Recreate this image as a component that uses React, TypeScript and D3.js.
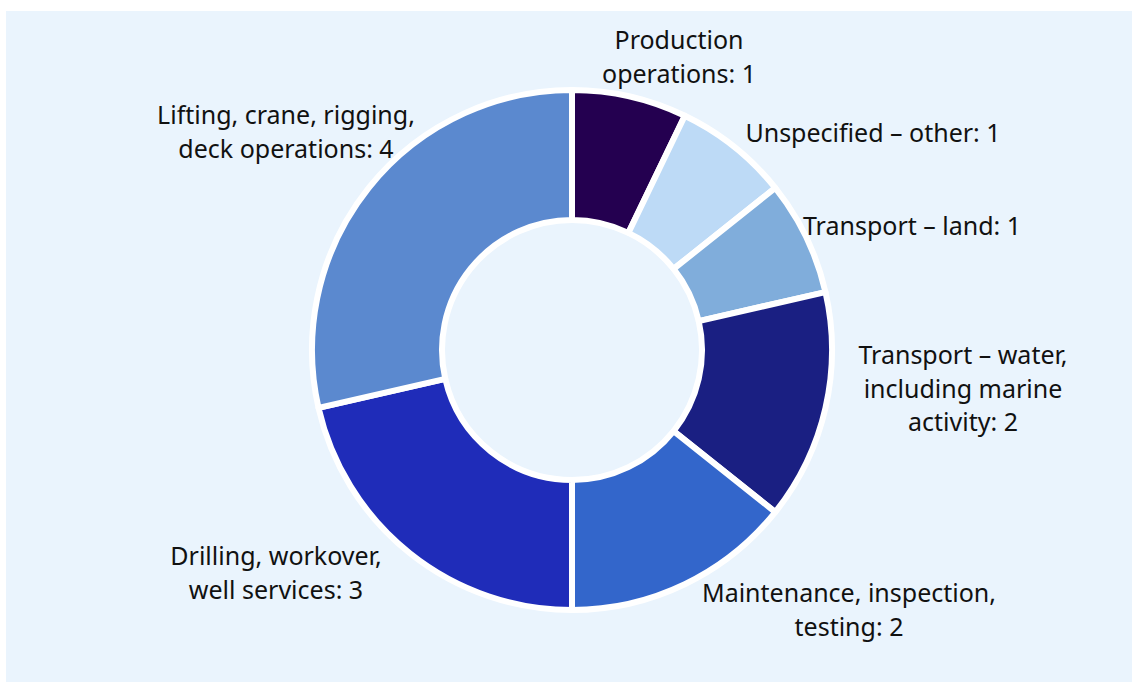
import React, { useEffect, useRef } from "react";
import * as d3 from "d3";

const categories = [
  "Production operations",
  "Unspecified – other",
  "Transport – land",
  "Transport – water, including marine activity",
  "Maintenance, inspection, testing",
  "Drilling, workover, well services",
  "Lifting, crane, rigging, deck operations",
];
const values = [1, 1, 1, 2, 2, 3, 4];
const colors = ["#240050", "#bddaf6", "#80addb", "#1a1f82", "#3366cb", "#1f2cb9", "#5b89cf"];

// label text split in lines, last line gets ": value"
const labelLines = [
  ["Production", "operations"],
  ["Unspecified – other"],
  ["Transport – land"],
  ["Transport – water,", "including marine", "activity"],
  ["Maintenance, inspection,", "testing"],
  ["Drilling, workover,", "well services"],
  ["Lifting, crane, rigging,", "deck operations"],
];

const D3Donut = () => {
  const ref = useRef<HTMLDivElement>(null);

  useEffect(() => {
    drawChart();
  }, []);

  const drawChart = () => {
    const w = 1132;
    const h = 682;
    const cx = 572;
    const cy = 350;
    const outerRadius = 260;
    const innerRadius = 130;
    const lineH = 33.5;
    // where each label block sits (centre x, first baseline)
    const labelPos = [
      [679, 49],
      [873, 142],
      [912, 235],
      [963, 364],
      [849, 602],
      [276, 565],
      [286, 124],
    ];

    d3.select(ref.current).selectAll("*").remove();
    const svg = d3
      .select(ref.current)
      .append("svg")
      .attr("width", w)
      .attr("height", h)
      .style("display", "block");

    svg
      .append("rect")
      .attr("x", 6)
      .attr("y", 11)
      .attr("width", w - 6)
      .attr("height", h - 11)
      .attr("fill", "#eaf4fd");

    const pie = d3
      .pie<number>()
      .sort(null)
      .value((d) => d)(values);

    const arc = d3
      .arc<d3.PieArcDatum<number>>()
      .innerRadius(innerRadius)
      .outerRadius(outerRadius);

    const g = svg.append("g").attr("transform", "translate(" + cx + "," + cy + ")");

    g.selectAll("path")
      .data(pie)
      .enter()
      .append("path")
      .attr("d", (d) => arc(d) as string)
      .attr("fill", (d, i) => colors[i])
      .attr("stroke", "#ffffff")
      .attr("stroke-width", 6)
      .attr("stroke-linejoin", "round");

    const labels = svg
      .selectAll("text.lbl")
      .data(categories)
      .enter()
      .append("text")
      .attr("class", "lbl")
      .attr("text-anchor", "middle")
      .attr("font-family", "'Noto Sans', sans-serif")
      .attr("font-size", 25)
      .attr("fill", "#111111");

    labels.each(function (d, i) {
      const lines = labelLines[i];
      const t = d3.select(this);
      lines.forEach((ln, j) => {
        t.append("tspan")
          .attr("x", labelPos[i][0])
          .attr("y", labelPos[i][1] + j * lineH)
          .text(j === lines.length - 1 ? ln + ": " + values[i] : ln);
      });
    });
  };

  return <div ref={ref}></div>;
};

export default function App() {
  return (
    <div style={{ position: "absolute", left: 0, top: 0 }}>
      <D3Donut />
    </div>
  );
}
